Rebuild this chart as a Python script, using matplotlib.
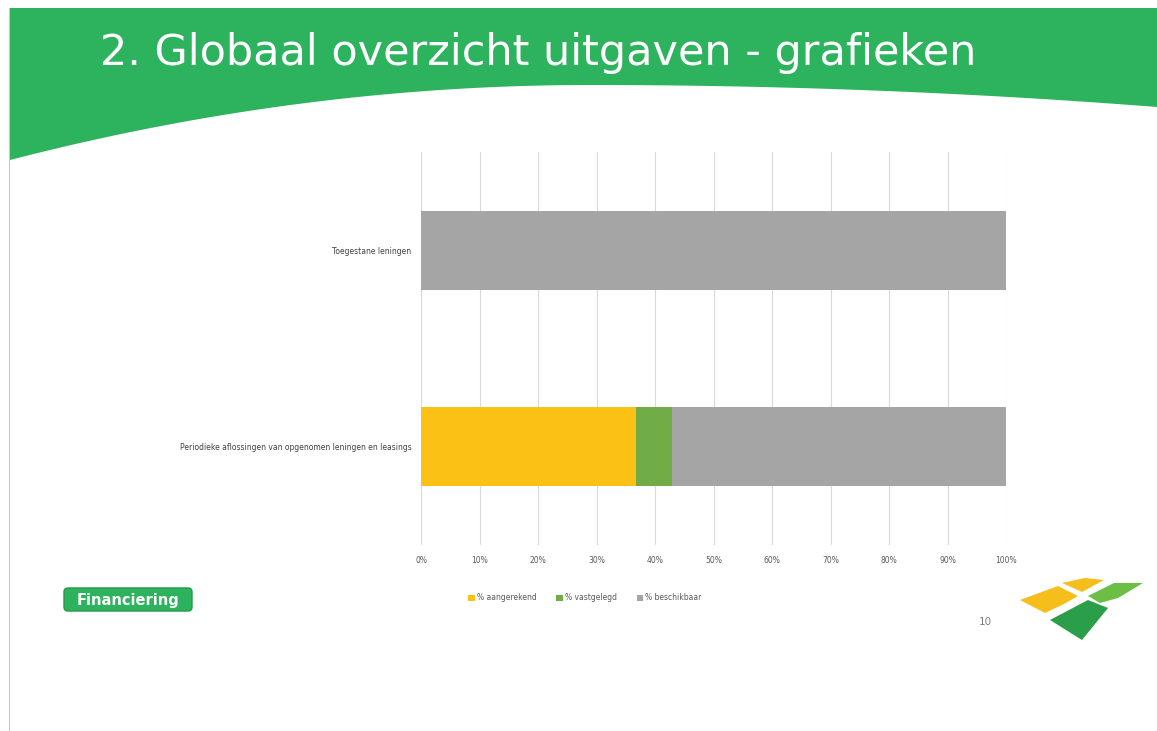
import numpy as np
import matplotlib
matplotlib.use("Agg")
import matplotlib.pyplot as plt
import matplotlib.patches as mpatches

# ── Data ──
categories = ["Toegestane leningen",
              "Periodieke aflossingen van opgenomen leningen en leasings"]
aangerekend = [0.0, 36.7]
vastgelegd = [0.0, 6.2]
beschikbaar = [100.0, 57.1]
series_labels = ["% aangerekend", "% vastgelegd", "% beschikbaar"]
ticks = list(range(0, 101, 10))
tick_labels = [f"{t}%" for t in ticks]

YEL = '#FBC115'
GRN = '#70AD47'
GRY = '#A5A5A5'
BANNER = '#2DB35D'

W, H = 1157, 731
fig = plt.figure(figsize=(W / 100, H / 100), dpi=100)

# ── Slide background (pixel coords) ──
bg = fig.add_axes([0, 0, 1, 1])
bg.set_xlim(0, W)
bg.set_ylim(H, 0)
bg.axis('off')
bg.plot([8.5, 8.5], [8, H], color='#C8C8C8', lw=0.8)

xs = np.linspace(10, W, 200)
# curved bottom edge of the banner
bottom = 85 + 75 * ((xs - 590) / 580) ** 2
bottom = np.where(xs > 590, 85 + 22 * ((xs - 590) / 567) ** 2, bottom)
poly = np.vstack([np.column_stack([xs, bottom]),
                  [[W, 8], [10, 8]]])
bg.add_patch(mpatches.Polygon(poly, closed=True, facecolor=BANNER,
                              edgecolor='none'))
bg.text(100, 53, "2. Globaal overzicht uitgaven - grafieken",
        ha='left', va='center', fontsize=31, color='white',
        family='DejaVu Sans')

# Financiering button
bg.add_patch(mpatches.FancyBboxPatch((64, 588), 128, 23,
                                     boxstyle="round,pad=0,rounding_size=4",
                                     facecolor=BANNER, edgecolor='#23994C',
                                     lw=1))
bg.text(128, 600, "Financiering", ha='center', va='center', fontsize=10.5,
        fontweight='bold', color='white')

# page number
bg.text(985, 622, "10", ha='center', va='center', fontsize=7.5,
        color='#808080')

# logo
bg.add_patch(mpatches.Polygon([[1020, 600], [1058, 586], [1078, 596],
                               [1064, 604], [1045, 613]],
                              facecolor='#F6BE1A', edgecolor='none'))
bg.add_patch(mpatches.Polygon([[1062, 583], [1085, 578], [1104, 580],
                               [1082, 592]],
                              facecolor='#F6BE1A', edgecolor='none'))
bg.add_patch(mpatches.Polygon([[1088, 596], [1114, 583], [1143, 583],
                               [1118, 598], [1100, 603]],
                              facecolor='#6CBE45', edgecolor='none'))
bg.add_patch(mpatches.Polygon([[1050, 620], [1088, 600], [1108, 608],
                               [1082, 640]],
                              facecolor='#2A9E48', edgecolor='none'))

# ── Chart ──
ax = fig.add_axes([421 / W, 1 - 545 / H, 585 / W, 393 / H])
y = np.arange(len(categories))
left = np.zeros(len(categories))
for vals, lab, col in zip([aangerekend, vastgelegd, beschikbaar],
                          series_labels, [YEL, GRN, GRY]):
    ax.barh(y, vals, left=left, height=0.4, color=col, label=lab, zorder=3)
    left += np.array(vals)

ax.set_xlim(0, 100)
ax.set_ylim(1.5, -0.5)
ax.set_xticks(ticks)
ax.set_xticklabels(tick_labels, fontsize=5.5, color='#595959')
ax.set_yticks(y)
ax.set_yticklabels(categories, fontsize=5.5, color='#404040')
ax.tick_params(axis='x', length=0, pad=8)
ax.tick_params(axis='y', length=0, pad=7)
ax.grid(axis='x', color='#D9D9D9', lw=0.8, zorder=0)
for s in ax.spines.values():
    s.set_visible(False)

ax.legend(loc='center', bbox_to_anchor=(585 / W, 1 - 598 / H),
          bbox_transform=fig.transFigure, ncol=3, frameon=False,
          fontsize=5.5, handlelength=0.8, handleheight=0.8,
          handletextpad=0.3, columnspacing=2.6, labelcolor='#595959')

fig.savefig("out.png", dpi=100)
